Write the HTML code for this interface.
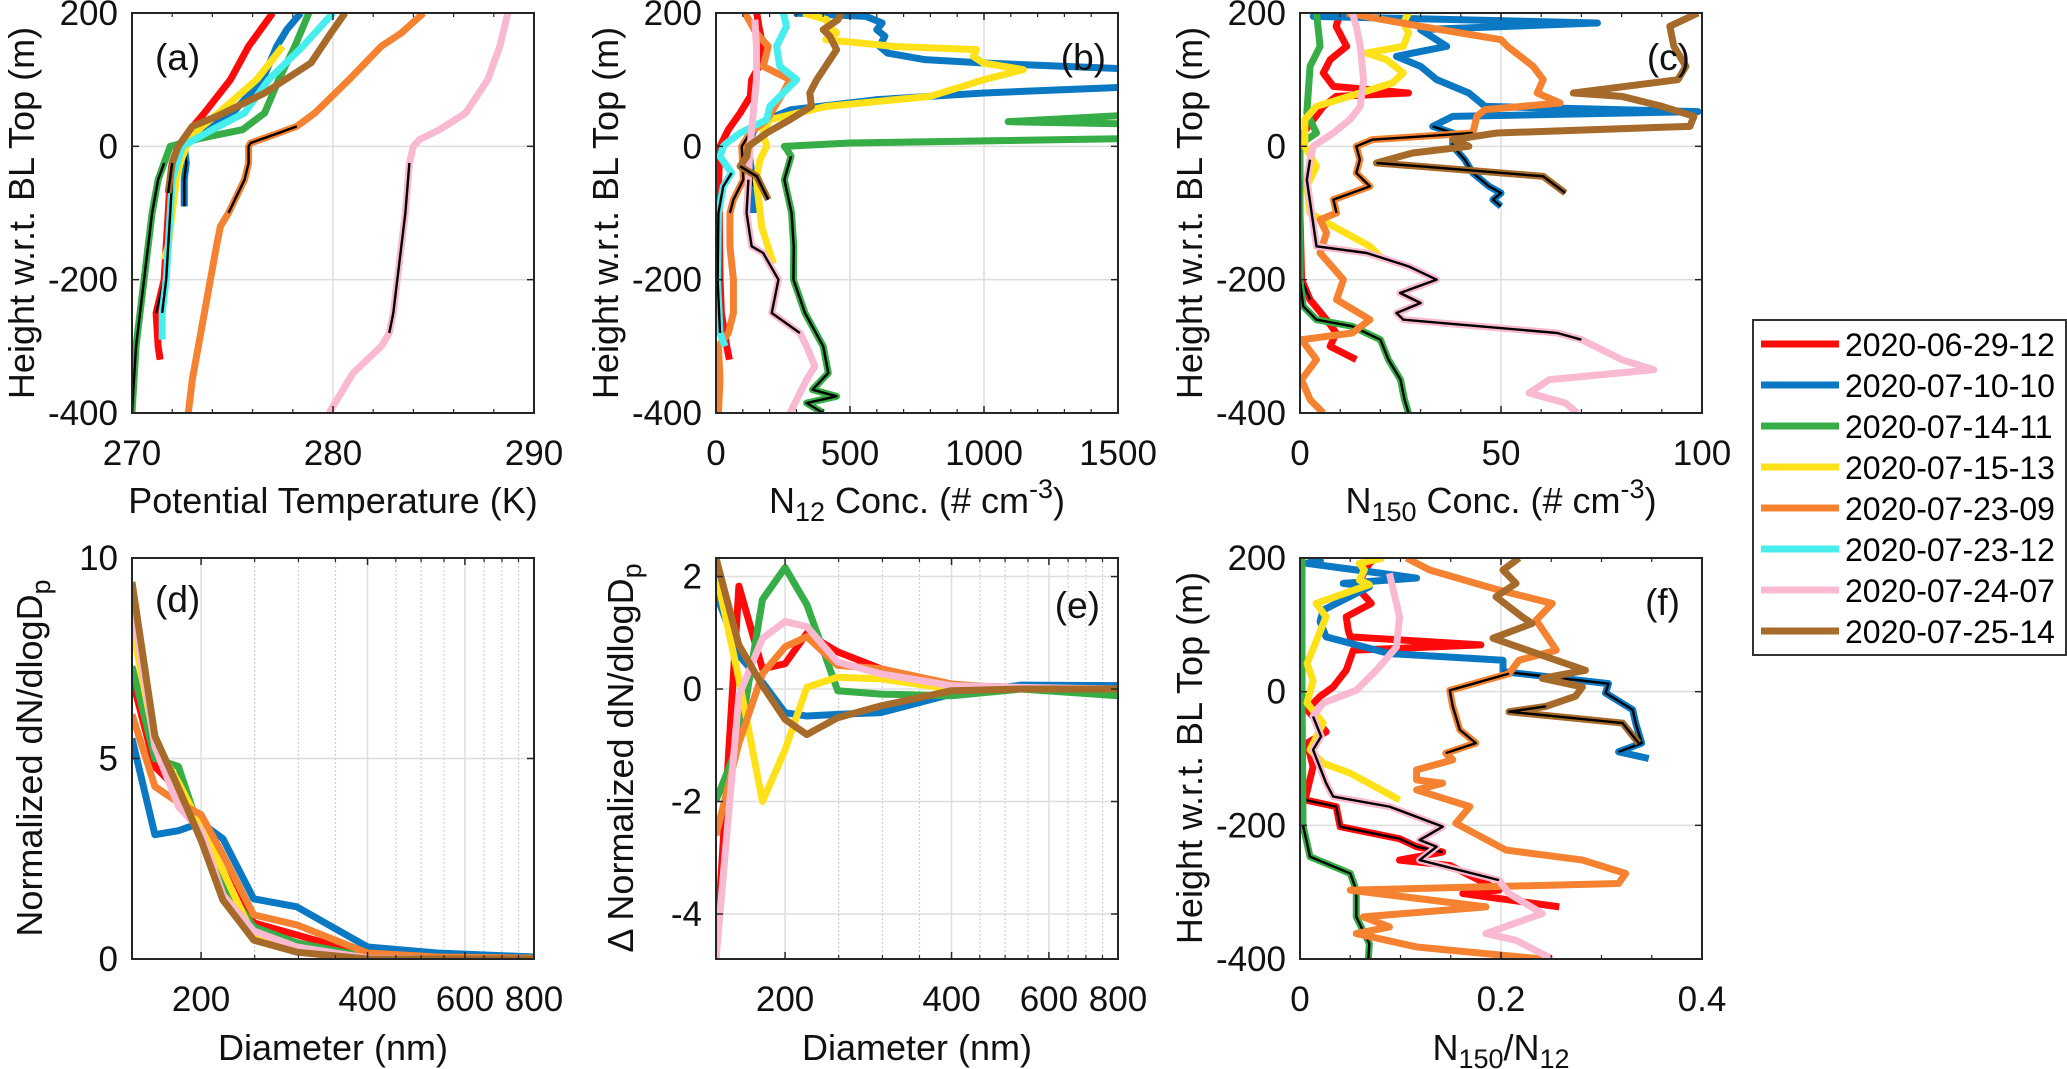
<!DOCTYPE html>
<html><head><meta charset="utf-8"><style>
html,body{margin:0;padding:0;background:#fff;}
svg{display:block;font-family:"Liberation Sans",Arial,sans-serif;}
</style></head><body>
<svg id="fig" width="2067" height="1069" viewBox="0 0 2067 1069" xmlns="http://www.w3.org/2000/svg"></svg>
<script>
// ---------- DATA ----------
const seriesNames = ["2020-06-29-12","2020-07-10-10","2020-07-14-11","2020-07-15-13","2020-07-23-09","2020-07-23-12","2020-07-24-07","2020-07-25-14"];
const seriesColors = ["#ff0a0a","#0a78c3","#36ad47","#ffe11a","#f58231","#46eeee","#f9b9d0","#a66a2a"];
const coreRanges = [[-250,-160],[-90,30],[-400,-8],null,[-100,30],[-280,-20],[-290,-20],[-80,-20]];
// panel a: [height, theta K]
const thRed=[[200,277.0],[150,275.8],[100,274.9],[50,273.6],[25,272.9],[0,272.3],[-25,272.0],[-50,271.9],[-100,271.8],[-150,271.7],[-200,271.6],[-250,271.2],[-300,271.3],[-320,271.4]];
const thBlue=[[200,278.4],[175,277.7],[150,277.2],[100,276.5],[50,275.0],[25,273.7],[0,272.6],[-25,272.7],[-50,272.6],[-90,272.6]];
const thGreen=[[200,278.8],[150,278.1],[100,277.3],[50,276.6],[25,275.5],[12,273.4],[0,271.9],[-25,271.6],[-50,271.3],[-100,271.0],[-150,270.8],[-200,270.6],[-250,270.4],[-300,270.2],[-350,270.1],[-400,270.0]];
const thYellow=[[150,277.5],[100,276.2],[50,274.3],[25,273.3],[0,272.7],[-25,272.4],[-50,272.2],[-100,272.0],[-150,271.8],[-170,271.6]];
const thOrange=[[200,284.5],[170,283.4],[150,282.4],[100,280.8],[50,279.1],[30,278.2],[20,277.3],[5,275.9],[0,275.8],[-25,275.8],[-50,275.6],[-75,275.2],[-100,274.8],[-120,274.4],[-150,274.2],[-200,273.9],[-250,273.6],[-300,273.3],[-350,273.0],[-400,272.8]];
const thCyan=[[200,280.0],[150,278.5],[100,276.8],[50,275.6],[25,274.0],[0,272.5],[-50,272.0],[-100,271.9],[-150,271.8],[-200,271.7],[-250,271.5],[-290,271.5]];
const thPink=[[200,288.7],[150,288.3],[100,287.7],[50,286.6],[25,285.3],[10,284.3],[0,284.0],[-25,283.8],[-100,283.6],[-200,283.2],[-250,283.0],[-280,282.8],[-300,282.4],[-340,281.0],[-360,280.6],[-400,279.8]];
const thBrown=[[200,280.6],[170,279.9],[125,278.9],[80,276.6],[46,274.3],[30,273.0],[0,272.3],[-25,272.0],[-70,271.8]];
// panel b: [height, N12]
const n12Red=[[200,152],[180,160],[150,175],[120,160],[100,133],[75,128],[50,90],[25,46],[0,15],[-50,10],[-100,12],[-200,15],[-250,20],[-300,40],[-320,50]];
const n12Blue=[[200,290],[195,560],[185,620],[175,600],[165,630],[150,610],[140,640],[130,780],[125,1000],[115,1600],[90,1600],[80,1000],[70,600],[55,280],[45,220],[30,150],[10,125],[0,120],[-30,130],[-60,140],[-100,140]];
const n12Green=[[48,1600],[37,1090],[33,1600],[12,1600],[5,500],[0,255],[-5,265],[-15,280],[-50,255],[-100,282],[-150,290],[-200,289],[-250,332],[-300,400],[-340,419],[-365,360],[-375,450],[-385,338],[-400,400]];
const n12Yellow=[[200,326],[190,413],[180,420],[170,450],[160,410],[150,662],[145,972],[135,960],[125,997],[115,1147],[100,1000],[75,800],[60,413],[40,200],[20,175],[0,189],[-20,164],[-50,150],[-100,165],[-120,170],[-176,214]];
const n12Orange=[[200,108],[170,150],[150,195],[120,176],[100,276],[80,250],[60,220],[40,190],[20,127],[0,96],[-50,102],[-80,65],[-100,52],[-150,52],[-200,65],[-250,65],[-280,46],[-300,9],[-350,15],[-400,9]];
const n12Cyan=[[200,251],[180,263],[150,226],[120,238],[100,301],[80,251],[60,201],[40,189],[20,90],[5,40],[0,27],[-15,15],[-40,58],[-60,27],[-100,9],[-200,6],[-280,15],[-300,34]];
const n12Pink=[[190,145],[150,151],[100,151],[50,139],[0,127],[-50,121],[-100,114],[-150,133],[-160,176],[-200,233],[-250,208],[-280,313],[-300,338],[-330,369],[-350,338],[-400,276]];
const n12Brown=[[200,469],[190,455],[175,400],[165,425],[145,450],[100,376],[80,350],[60,356],[40,276],[20,189],[0,121],[-15,115],[-30,90],[-45,152],[-80,195]];
// panel c: [height, N150]
const n150Red=[[200,10],[180,9],[150,11.6],[130,7.5],[110,5.8],[90,8.3],[80,27],[75,9],[60,5.8],[40,3.3],[20,0.8],[0,0],[-50,-0.4],[-100,-0.4],[-200,0.4],[-230,2.5],[-260,6.6],[-280,9],[-300,7.5],[-320,14]];
const n150Blue=[[200,5.8],[195,3.3],[185,74],[175,30],[150,36.5],[135,24],[120,30],[100,34],[80,42],[60,46],[52,99],[45,38],[30,33],[20,38],[0,38],[-20,41],[-40,43],[-60,47],[-70,50],[-80,48],[-90,50]];
const n150Green=[[200,4.1],[150,5],[120,2.5],[50,1.7],[20,4.1],[5,0.4],[0,0],[-50,0],[-100,0],[-200,0],[-240,0.8],[-260,4.1],[-270,13],[-290,20],[-320,22],[-350,25],[-380,26],[-400,27]];
const n150Yellow=[[200,27],[185,25.7],[170,27],[150,25.7],[140,16.6],[130,21.5],[110,25.7],[95,23],[80,15],[60,4.1],[40,1.2],[0,1.2],[-30,4.1],[-60,1.7],[-100,2.5],[-120,8.3],[-150,17.4],[-170,20.7]];
const n150Orange=[[200,11.6],[180,30],[160,50],[150,51.6],[120,58],[100,60.5],[80,59],[65,64.7],[55,46],[45,44],[20,43],[10,18],[0,14],[-20,14.9],[-40,14],[-60,17.4],[-80,8.3],[-100,9.1],[-110,5],[-130,6.6],[-160,5],[-200,10.8],[-230,9.1],[-260,17.4],[-280,13],[-290,0.4],[-320,4.1],[-350,0.4],[-380,2.5],[-400,5.8]];
const n150Cyan=[];
const n150Pink=[[200,13],[180,14],[150,15],[100,15.8],[60,15],[40,12.4],[20,8.3],[0,3.3],[-20,2.5],[-50,1.7],[-100,2.9],[-150,4.1],[-160,16.6],[-180,27],[-200,34],[-220,24.9],[-235,30],[-250,24],[-260,25.7],[-280,64],[-290,70],[-320,80],[-335,88],[-350,62],[-370,57],[-385,66],[-400,69]];
const n150Brown=[[200,99],[180,92],[150,93],[120,96],[100,94],[80,68],[75,80],[60,90],[45,98],[30,97],[20,49],[10,38],[0,42],[-10,28],[-25,19],[-30,30],[-45,60.5],[-70,66]];
// panel f: [height, N150/N12]
const rRed=[[200,0.076],[192,0.069],[157,0.056],[132,0.071],[112,0.046],[92,0.048],[82,0.05],[70,0.18],[62,0.053],[32,0.046],[7,0.033],[-7,0.02],[-27,0.007],[-60,0.026],[-77,0.007],[-112,0.013],[-162,0.005],[-172,0.036],[-202,0.04],[-220,0.099],[-232,0.116],[-240,0.142],[-252,0.099],[-260,0.149],[-297,0.198],[-302,0.162],[-322,0.258]];
const rBlue=[[200,0.023],[192,0.007],[170,0.116],[162,0.043],[157,0.069],[122,0.023],[105,0.02],[82,0.026],[57,0.089],[47,0.202],[30,0.202],[12,0.307],[-2,0.304],[-27,0.331],[-47,0.334],[-77,0.34],[-90,0.317],[-100,0.347]];
const rGreen=[[200,0.002],[0,0.002],[-200,0.003],[-247,0.01],[-272,0.05],[-297,0.056],[-337,0.056],[-377,0.069],[-400,0.068]];
const rYellow=[[200,0.083],[192,0.059],[182,0.064],[167,0.059],[160,0.069],[132,0.016],[112,0.026],[42,0.007],[17,0.013],[-17,0.007],[-47,0.023],[-87,0.01],[-107,0.023],[-122,0.05],[-162,0.099]];
const rOrange=[[200,0.106],[182,0.129],[152,0.198],[132,0.251],[107,0.235],[62,0.255],[47,0.218],[27,0.208],[2,0.149],[-22,0.152],[-57,0.159],[-77,0.175],[-92,0.145],[-102,0.152],[-117,0.116],[-132,0.116],[-137,0.142],[-147,0.116],[-172,0.169],[-197,0.155],[-237,0.205],[-252,0.281],[-272,0.324],[-287,0.317],[-297,0.05],[-322,0.185],[-337,0.063],[-352,0.089],[-362,0.056],[-382,0.116],[-400,0.241]];
const rCyan=[];
const rPink=[[177,0.089],[112,0.099],[67,0.096],[32,0.076],[2,0.056],[-17,0.023],[-37,0.013],[-67,0.021],[-87,0.013],[-137,0.026],[-157,0.033],[-172,0.089],[-202,0.142],[-222,0.119],[-232,0.136],[-252,0.119],[-282,0.198],[-302,0.208],[-332,0.241],[-362,0.185],[-372,0.215],[-400,0.251]];
const rBrown=[[200,0.218],[182,0.202],[162,0.215],[142,0.195],[112,0.221],[102,0.231],[80,0.192],[47,0.255],[32,0.284],[20,0.241],[7,0.281],[-7,0.274],[-22,0.245],[-30,0.208],[-47,0.321],[-77,0.337]];
// panels d, e: diameters and values
const diameters=[150,165,182,200,219,249,298,400,534,800];
const dRed=[7.0,4.8,4.2,3.1,2.2,0.9,0.6,0.1,0.05,0.02];
const dBlue=[5.5,3.1,3.2,3.4,3.0,1.5,1.3,0.3,0.15,0.05];
const dGreen=[7.3,5.0,4.8,3.1,1.9,0.8,0.4,0.05,0,0];
const dYellow=[8.3,5.4,4.4,3.3,2.2,0.55,0.25,0.03,0,0];
const dOrange=[6.1,4.3,3.9,3.6,2.6,1.1,0.85,0.15,0.05,0.02];
const dPink=[8.9,5.3,3.8,3.2,1.6,0.7,0.3,0.02,0,0];
const dBrown=[9.4,5.56,4.26,2.96,1.47,0.47,0.17,0,0,0];
const eRed=[-4.8,1.83,0.36,0.45,0.99,0.66,0.36,0.06,0.03,0.06];
const eBlue=[1.7,0.6,0.12,-0.42,-0.48,-0.45,-0.42,-0.09,0.07,0.06];
const eGreen=[-1.98,-0.96,1.59,2.16,1.5,-0.03,-0.09,-0.12,0,-0.12];
const eYellow=[2.07,0.18,-2.0,-1.08,0.03,0.21,0.18,0,0,0];
const eOrange=[-2.6,-0.96,0.27,0.75,0.93,0.42,0.36,0.09,0,0];
const ePink=[-4.8,-0.12,0.9,1.2,1.11,0.48,0.27,0.06,0.03,0];
const eBrown=[2.33,0.78,0.06,-0.54,-0.81,-0.51,-0.3,-0.03,0,0];
const heightTicks=[200,0,-200,-400];
const thetaTicks=[270,280,290];
const n12Ticks=[0,500,1000,1500];
const n150Ticks=[0,50,100];
const ratioTicks=[0,0.2,0.4];
const ratioTickLabels=["0","0.2","0.4"];
const diamTicks=[200,400,600,800];
const dTicks=[0,5,10];
const eTicks=[2,0,-2,-4];

// ---------- DRAWING ----------
const NS="http://www.w3.org/2000/svg";
const svg=document.getElementById('fig');
function mk(tag,attrs,parent){const e=document.createElementNS(NS,tag);for(const k in attrs)e.setAttribute(k,attrs[k]);(parent||svg).appendChild(e);return e;}
const defs=mk('defs',{});

function makePanel(id,x0,y0,w,h,xdom,ydom,xlog){
  const sx=xlog?(v=>x0+w*(Math.log10(v)-Math.log10(xdom[0]))/(Math.log10(xdom[1])-Math.log10(xdom[0]))):(v=>x0+w*(v-xdom[0])/(xdom[1]-xdom[0]));
  const sy=v=>y0+h*(ydom[1]-v)/(ydom[1]-ydom[0]);
  const cp=mk('clipPath',{id:'clip-'+id},defs);
  mk('rect',{x:x0,y:y0,width:w,height:h},cp);
  const g=mk('g',{});
  
  
  return {id,x0,y0,w,h,sx,sy,g};
}
function grid(p,xs,ys,dotted){
  const gg=mk('g',{},p.g);
  
  
  xs.forEach(v=>{mk('line',{x1:p.sx(v),x2:p.sx(v),y1:p.y0,y2:p.y0+p.h,stroke:'#dedede','stroke-width':1.5},gg);});
  ys.forEach(v=>{mk('line',{x1:p.x0,x2:p.x0+p.w,y1:p.sy(v),y2:p.sy(v),stroke:'#dedede','stroke-width':1.5},gg);});
  (dotted||[]).forEach(v=>{mk('line',{x1:p.sx(v),x2:p.sx(v),y1:p.y0,y2:p.y0+p.h,stroke:'#cfcfcf','stroke-width':1.2,'stroke-dasharray':'2,2'},gg);});
}
function frame(p,xt,xl,yt,yl,xminor){
  const fg=mk('g',{},p.g);
  
  
  mk('rect',{x:p.x0,y:p.y0,width:p.w,height:p.h,fill:'none',stroke:'#262626','stroke-width':2},fg);
  const tl=7;
  xt.forEach((v,i)=>{const x=p.sx(v);
    mk('line',{x1:x,x2:x,y1:p.y0+p.h,y2:p.y0+p.h-tl,stroke:'#262626','stroke-width':1.5},fg);
    mk('line',{x1:x,x2:x,y1:p.y0,y2:p.y0+tl,stroke:'#262626','stroke-width':1.5},fg);
    const t=mk('text',{x:x,y:p.y0+p.h+52,'font-size':35,'text-anchor':'middle',fill:'#111'},fg);t.textContent=xl[i];
    });
  (xminor||[]).forEach(v=>{const x=p.sx(v);
    mk('line',{x1:x,x2:x,y1:p.y0+p.h,y2:p.y0+p.h-4,stroke:'#262626','stroke-width':1.2},fg);
    mk('line',{x1:x,x2:x,y1:p.y0,y2:p.y0+4,stroke:'#262626','stroke-width':1.2},fg);});
  yt.forEach((v,i)=>{const y=p.sy(v);
    mk('line',{x1:p.x0,x2:p.x0+tl,y1:y,y2:y,stroke:'#262626','stroke-width':1.5},fg);
    mk('line',{x1:p.x0+p.w,x2:p.x0+p.w-tl,y1:y,y2:y,stroke:'#262626','stroke-width':1.5},fg);
    const t=mk('text',{x:p.x0-14,y:y+12,'font-size':35,'text-anchor':'end',fill:'#111'},fg);t.textContent=yl[i];
    });
}
function profile(p,data,si,name){
  if(!data.length)return;
  const pts=data.map(d=>p.sx(Math.max(d[1],1e-9))+','+p.sy(d[0])).join(' ');
  const pl=mk('polyline',{points:pts,fill:'none',stroke:seriesColors[si],'stroke-width':7,'stroke-linejoin':'round','stroke-linecap':'butt','clip-path':'url(#clip-'+p.id+')'},p.g);
  
  
  const r=coreRanges[si];
  if(r){const sub=data.filter(d=>d[0]>=r[0]&&d[0]<=r[1]);
    if(sub.length>1){const c=mk('polyline',{points:sub.map(d=>p.sx(d[1])+','+p.sy(d[0])).join(' '),fill:'none',stroke:'#000','stroke-width':2.4,'stroke-linejoin':'round','clip-path':'url(#clip-'+p.id+')'},p.g);
      
      }}
}
function sizeLine(p,vals,si,name){
  if(!vals)return;
  const pts=vals.map((v,i)=>p.sx(diameters[i])+','+p.sy(v)).join(' ');
  const pl=mk('polyline',{points:pts,fill:'none',stroke:seriesColors[si],'stroke-width':7,'stroke-linejoin':'round','clip-path':'url(#clip-'+p.id+')'},p.g);
  
  
}
function text(str,x,y,size,anchor,name,rot){
  const t=mk('text',{x:x,y:y,'font-size':size,'text-anchor':anchor||'middle',fill:'#111'});
  if(rot)t.setAttribute('transform','rotate(-90 '+x+' '+y+')');
  t.textContent=str;
  
  
  return t;
}
function richText(parts,x,y,size,name,rot){
  const t=mk('text',{x:x,y:y,'font-size':size,'text-anchor':'middle',fill:'#111'});
  if(rot)t.setAttribute('transform','rotate(-90 '+x+' '+y+')');
  parts.forEach(pt=>{const s=mk('tspan',{},t);s.textContent=pt[0];
    if(pt[1]==='sub'){s.setAttribute('font-size',size*0.75);s.setAttribute('dy',8);}
    else if(pt[1]==='sup'){s.setAttribute('font-size',size*0.75);s.setAttribute('dy',-15);}
    else if(pt[1]==='back'){s.setAttribute('dy',pt[2]);}});
  
  
}
const hs=heightTicks.map(String);
const minor=(a,b,s)=>{const r=[];for(let v=a;v<=b+1e-9;v+=s)r.push(+v.toFixed(4));return r;};
const diamMinor=[250,300,350,450,500,550,650,700,750];
const diamGrid=[200,400,600,800];

// (a)
const pa=makePanel('a',132,13,402,400,[270,290],[-400,200]);
grid(pa,thetaTicks,heightTicks);
[thRed,thBlue,thGreen,thYellow,thOrange,thCyan,thPink,thBrown].forEach((d,i)=>profile(pa,d,i,'theta-'+seriesNames[i]));
frame(pa,thetaTicks,thetaTicks.map(String),heightTicks,hs,minor(272,288,2));
text('(a)',155,70,37,'start','panel-label-a');
text('Potential Temperature (K)',333,513,36,'middle','x-axis-title-a');
text('Height w.r.t. BL Top (m)',34,213,36,'middle','y-axis-title-a',true);

// (b)
const pb=makePanel('b',716,13,402,400,[0,1500],[-400,200]);
grid(pb,n12Ticks,heightTicks);
[n12Red,n12Blue,n12Green,n12Yellow,n12Orange,n12Cyan,n12Pink,n12Brown].forEach((d,i)=>profile(pb,d,i,'n12-'+seriesNames[i]));
frame(pb,n12Ticks,n12Ticks.map(String),heightTicks,hs,minor(100,1400,100));
text('(b)',1106,70,37,'end','panel-label-b');
richText([['N'],['12','sub'],[' Conc. (# cm','back',-8],['-3','sup'],[')','back',15]],917,513,36,'x-axis-title-b');
text('Height w.r.t. BL Top (m)',618,213,36,'middle','y-axis-title-b',true);

// (c)
const pc=makePanel('c',1300,13,402,400,[0,100],[-400,200]);
grid(pc,n150Ticks,heightTicks);
[n150Red,n150Blue,n150Green,n150Yellow,n150Orange,n150Cyan,n150Pink,n150Brown].forEach((d,i)=>profile(pc,d,i,'n150-'+seriesNames[i]));
frame(pc,n150Ticks,n150Ticks.map(String),heightTicks,hs,minor(10,90,10));
text('(c)',1690,70,37,'end','panel-label-c');
richText([['N'],['150','sub'],[' Conc. (# cm','back',-8],['-3','sup'],[')','back',15]],1501,513,36,'x-axis-title-c');
text('Height w.r.t. BL Top (m)',1202,213,36,'middle','y-axis-title-c',true);

// (d)
const pd=makePanel('d',132,558,402,401,[150,800],[0,10],true);
grid(pd,diamGrid,dTicks,diamMinor);
[dRed,dBlue,dGreen,dYellow,dOrange,null,dPink,dBrown].forEach((d,i)=>sizeLine(pd,d,i,'size-dist-'+seriesNames[i]));
frame(pd,diamTicks,diamTicks.map(String),dTicks,dTicks.map(String),diamMinor);
text('(d)',155,612,37,'start','panel-label-d');
text('Diameter (nm)',333,1060,36,'middle','x-axis-title-d');
richText([['Normalized dN/dlogD'],['p','sub']],42,758,36,'y-axis-title-d',true);

// (e)
const pe=makePanel('e',716,558,402,401,[150,800],[-4.8,2.33],true);
grid(pe,diamGrid,eTicks,diamMinor);
[eRed,eBlue,eGreen,eYellow,eOrange,null,ePink,eBrown].forEach((d,i)=>sizeLine(pe,d,i,'delta-size-dist-'+seriesNames[i]));
frame(pe,diamTicks,diamTicks.map(String),eTicks,eTicks.map(String),diamMinor);
text('(e)',1100,618,37,'end','panel-label-e');
text('Diameter (nm)',917,1060,36,'middle','x-axis-title-e');
richText([['\u0394 Normalized dN/dlogD'],['p','sub']],633,758,36,'y-axis-title-e',true);

// (f)
const pf=makePanel('f',1300,558,402,401,[0,0.4],[-400,200]);
grid(pf,ratioTicks,heightTicks);
[rRed,rBlue,rGreen,rYellow,rOrange,rCyan,rPink,rBrown].forEach((d,i)=>profile(pf,d,i,'ratio-'+seriesNames[i]));
frame(pf,ratioTicks,ratioTickLabels,heightTicks,hs,minor(0.05,0.35,0.05));
text('(f)',1680,615,37,'end','panel-label-f');
richText([['N'],['150','sub'],['/N','back',-8],['12','sub']],1501,1060,36,'x-axis-title-f');
text('Height w.r.t. BL Top (m)',1202,758,36,'middle','y-axis-title-f',true);

// legend
const lg=mk('g',{});


mk('rect',{x:1753,y:320,width:313,height:335,fill:'#fff',stroke:'#333','stroke-width':2},lg);
seriesNames.forEach((n,i)=>{
  const cy=344+i*41;
  const e=mk('g',{},lg);
  
  
  mk('line',{x1:1761,x2:1839,y1:cy,y2:cy,stroke:seriesColors[i],'stroke-width':7},e);
  const t=mk('text',{x:1845,y:cy+12,'font-size':32,fill:'#000'},e);t.textContent=n;
});
</script>
</body></html>
